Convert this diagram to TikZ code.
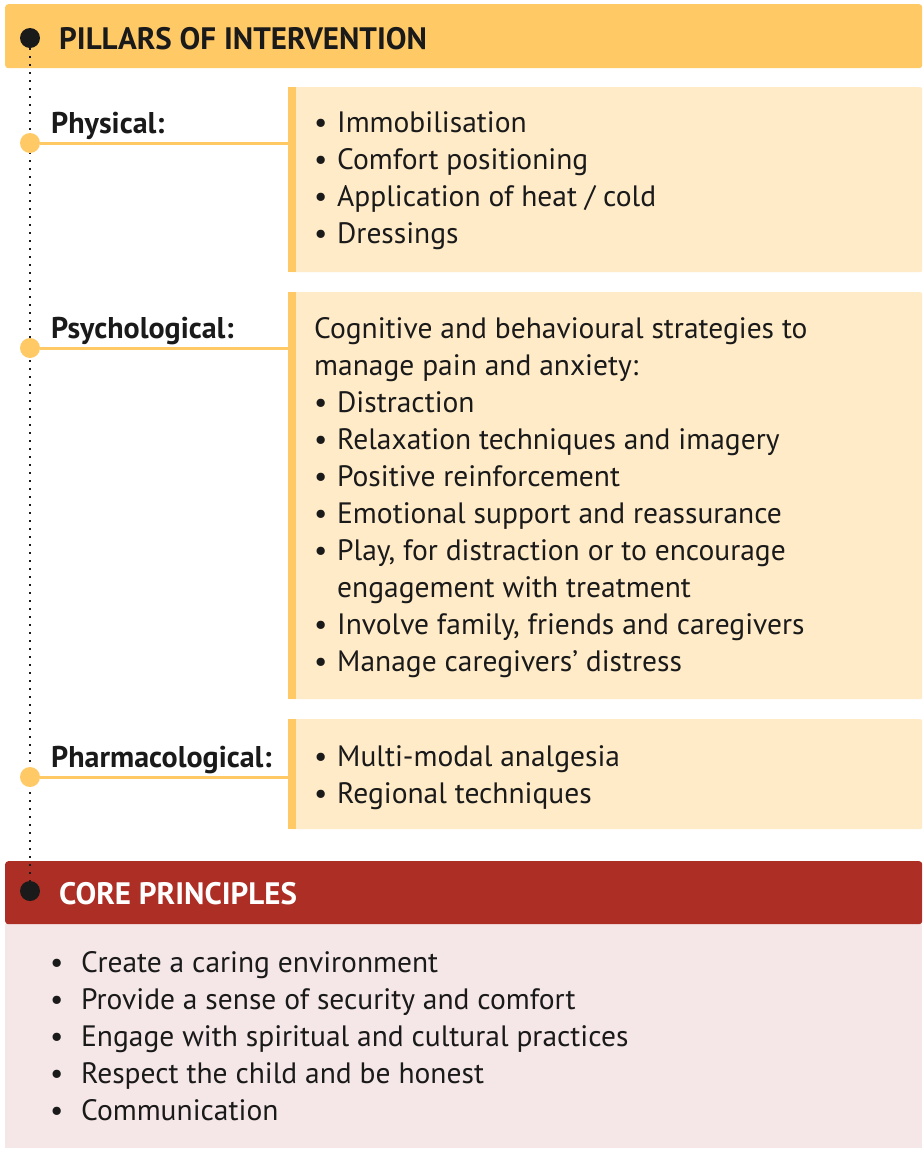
\documentclass[tikz,border=0pt]{standalone}
\usepackage{fontspec}
\setmainfont{PT Sans}
\usepackage{tikz}
\usetikzlibrary{positioning}

\definecolor{pillar}{HTML}{FFC966}
\definecolor{pillarlight}{HTML}{FFEBC8}
\definecolor{core}{HTML}{AD2E24}
\definecolor{corelight}{HTML}{F5E7E7}
\definecolor{ink}{HTML}{1A1A1A}

\newcommand{\itm}{\makebox[23pt][l]{\textbullet}}
\newcommand{\cnt}{\hspace*{23pt}}
\newcommand{\citm}{\makebox[31pt][l]{\textbullet}}

\begin{document}
\begin{tikzpicture}[x=1pt,y=-1pt,
	bodytext/.style={font=\fontsize{29.5}{37}\selectfont,text=ink,inner sep=0pt,align=left},
	pillarbox/.style={fill=pillarlight,rounded corners=2pt,inner sep=0pt,anchor=north west,minimum width=634pt}]
	\useasboundingbox (0,0) rectangle (923,1149);
	\tikzset{blackdot/.style={circle,fill=ink,inner sep=0pt,minimum size=20pt},
		pillardot/.style={circle,fill=pillar,inner sep=0pt,minimum size=20pt},
		pillarlabel/.style={font=\fontsize{30}{37}\selectfont\bfseries,text=ink,inner sep=0pt,anchor=base west},
		headtext/.style={font=\fontsize{31}{37}\selectfont\bfseries,text=ink,inner sep=0pt,anchor=base west}}
	\tikzstyle{link}=[draw=pillar,line width=3pt]

	%% Headers
	\node[fill=pillar,rounded corners=3pt,anchor=north west,inner sep=0pt,
		minimum width=917pt,minimum height=64pt] (pillars) at (5,4) {};
	\node[headtext] (pillarstxt) at (59,49) {PILLARS OF INTERVENTION};
	\node[fill=corelight,anchor=north west,inner sep=0pt,
		minimum width=917pt,minimum height=224pt] (corebox) at (5,924) {};
	\node[fill=core,rounded corners=3pt,anchor=north west,inner sep=0pt,
		minimum width=917pt,minimum height=63pt] (core) at (5,861) {};
	\node[headtext,text=white] (coretxt) at (59,904) {CORE PRINCIPLES};

	%% Pillar boxes
	\node[pillarbox,minimum height=185pt] (b1) at (288,87) {};
	\node[pillarbox,minimum height=407pt] (b2) at (288,292) {};
	\node[pillarbox,minimum height=110pt] (b3) at (288,719) {};
	\foreach \b in {b1,b2,b3}
		\fill[pillar] (\b.north west) rectangle ([xshift=8pt]\b.south west);

	%% Timeline
	\node[blackdot] (d0) at (30,38) {};
	\node[blackdot] (d4) at (30,891) {};
	\draw[ink,line width=2pt,dash pattern=on 2pt off 6pt] (d0) -- (d4);
	\node[pillardot] (p1) at (30,143) {};
	\node[pillardot] (p2) at (30,348) {};
	\node[pillardot] (p3) at (30,777) {};
	\draw[link] (p1) -- (p1 -| b1.west);
	\draw[link] (p2) -- (p2 -| b2.west);
	\draw[link] (p3) -- (p3 -| b3.west);

	%% Labels
	\node[pillarlabel] (l1) at (51,133) {Physical:};
	\node[pillarlabel] (l2) at (51,338) {Psychological:};
	\node[pillarlabel] (l3) at (51,767) {Pharmacological:};

	%% Box texts
	\node[bodytext,anchor=north west] (t1) at (314,111) {\itm Immobilisation\\
		\itm Comfort positioning\\
		\itm Application of heat / cold\\
		\itm Dressings};
	\node[bodytext,anchor=north west] (t2) at (314,317) {Cognitive and behavioural strategies to\\
		manage pain and anxiety:\\
		\itm Distraction\\
		\itm Relaxation techniques and imagery\\
		\itm Positive reinforcement\\
		\itm Emotional support and reassurance\\
		\itm Play, for distraction or to encourage\\
		\cnt engagement with treatment\\
		\itm Involve family, friends and caregivers\\
		\itm Manage caregivers’ distress};
	\node[bodytext,anchor=north west] (t3) at (314,745) {\itm Multi-modal analgesia\\
		\itm Regional techniques};
	\node[bodytext,anchor=north west] (t4) at (50,951) {\citm Create a caring environment\\
		\citm Provide a sense of security and comfort\\
		\citm Engage with spiritual and cultural practices\\
		\citm Respect the child and be honest\\
		\citm Communication};
\end{tikzpicture}
\end{document}
